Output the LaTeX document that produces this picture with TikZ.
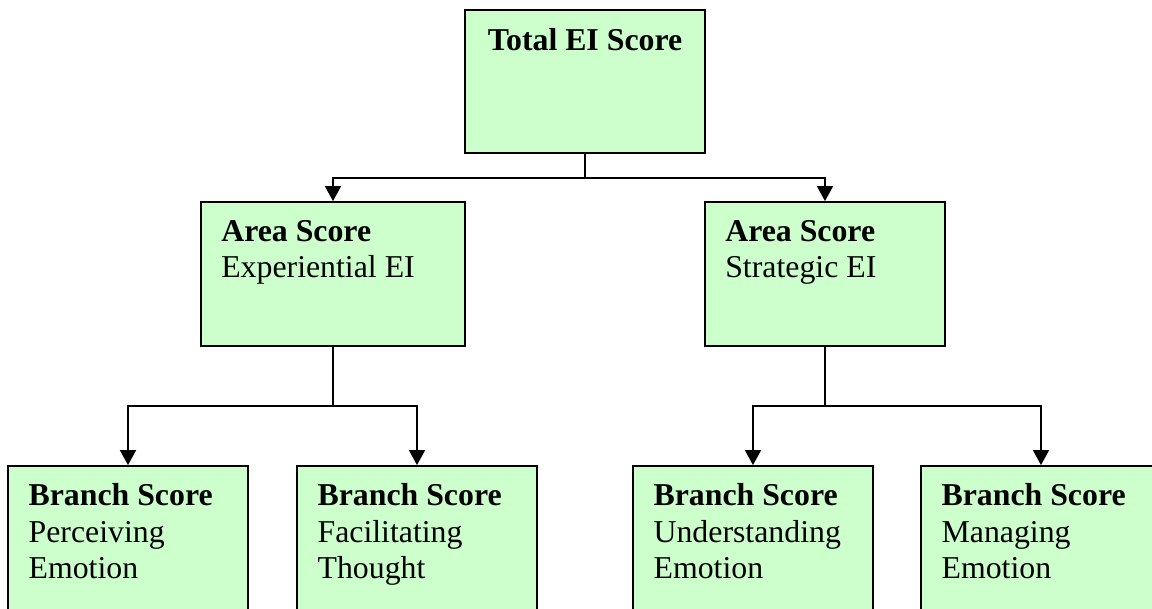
\documentclass[tikz,border=0pt]{standalone}
\usepackage{fontspec}
\setmainfont{Liberation Serif}
\usetikzlibrary{arrows.meta,calc}
\definecolor{boxgreen}{HTML}{CCFFCC}
\tikzset{
  box/.style={draw=black, line width=0.7pt, fill=boxgreen, rectangle, inner sep=0pt},
  topbox/.style={box, minimum width=90pt, minimum height=53.6pt},
  areabox/.style={box, minimum width=99pt, minimum height=54pt},
  narrowareabox/.style={box, minimum width=90pt, minimum height=54pt},
  branchbox/.style={box, minimum width=90pt, minimum height=75pt},
  lbl/.style={inner sep=0pt, anchor=base west, font=\fontsize{11.93pt}{14pt}\selectfont},
  ttl/.style={lbl, font=\fontsize{11.93pt}{14pt}\selectfont\bfseries},
  conn/.style={line width=0.6pt, draw=black},
  arr/.style={conn, -{Triangle[length=5.6pt,width=6pt]}}
}
\begin{document}
\begin{tikzpicture}[x=0.375pt, y=-0.375pt]
\useasboundingbox (0,0) rectangle (1152,609);
\clip (0,0) rectangle (1152,609);
% boxes
\node[topbox] (top) at (585,81.5) {};
\node[areabox] (a1) at (333,274) {};
\node[narrowareabox] (a2) at (825,274) {};
\node[branchbox] (b1) at (128,566) {};
\node[branchbox] (b2) at (417,566) {};
\node[branchbox] (b3) at (753,566) {};
\node[branchbox] (b4) at (1041,566) {};
% junction levels
\coordinate (j1) at (0,178);
\coordinate (j2) at (0,406);
% connectors
\draw[conn] (top.south) -- (top.south |- j1) coordinate (t0);
\draw[arr] (t0) -| (a1.north);
\draw[arr] (t0) -| (a2.north);
\draw[conn] (a1.south) -- (a1.south |- j2) coordinate (s1);
\draw[arr] (s1) -| (b1.north);
\draw[arr] (s1) -| (b2.north);
\draw[conn] (a2.south) -- (a2.south |- j2) coordinate (s2);
\draw[arr] (s2) -| (b3.north);
\draw[arr] (s2) -| (b4.north);
% texts
\node[ttl, anchor=base] (tt) at ($(top.north)+(0,41)$) {Total EI Score};
\node[ttl] (a1t) at ($(a1.north west)+(20.7,40.7)$) {Area Score};
\node[lbl] (a1s) at ($(a1.north west)+(20.7,76.3)$) {Experiential EI};
\node[ttl] (a2t) at ($(a2.north west)+(20.7,40.7)$) {Area Score};
\node[lbl] (a2s) at ($(a2.north west)+(20.7,76.3)$) {Strategic EI};
\node[ttl] (b1t) at ($(b1.north west)+(21,40.7)$) {Branch Score};
\node[lbl] (b1s) at ($(b1.north west)+(21,77.2)$) {Perceiving};
\node[lbl] (b1u) at ($(b1.north west)+(21,113.7)$) {Emotion};
\node[ttl] (b2t) at ($(b2.north west)+(21,40.7)$) {Branch Score};
\node[lbl] (b2s) at ($(b2.north west)+(21,77.2)$) {Facilitating};
\node[lbl] (b2u) at ($(b2.north west)+(21,113.7)$) {Thought};
\node[ttl] (b3t) at ($(b3.north west)+(21,40.7)$) {Branch Score};
\node[lbl] (b3s) at ($(b3.north west)+(21,77.2)$) {Understanding};
\node[lbl] (b3u) at ($(b3.north west)+(21,113.7)$) {Emotion};
\node[ttl] (b4t) at ($(b4.north west)+(21,40.7)$) {Branch Score};
\node[lbl] (b4s) at ($(b4.north west)+(21,77.2)$) {Managing};
\node[lbl] (b4u) at ($(b4.north west)+(21,113.7)$) {Emotion};
\end{tikzpicture}
\end{document}
